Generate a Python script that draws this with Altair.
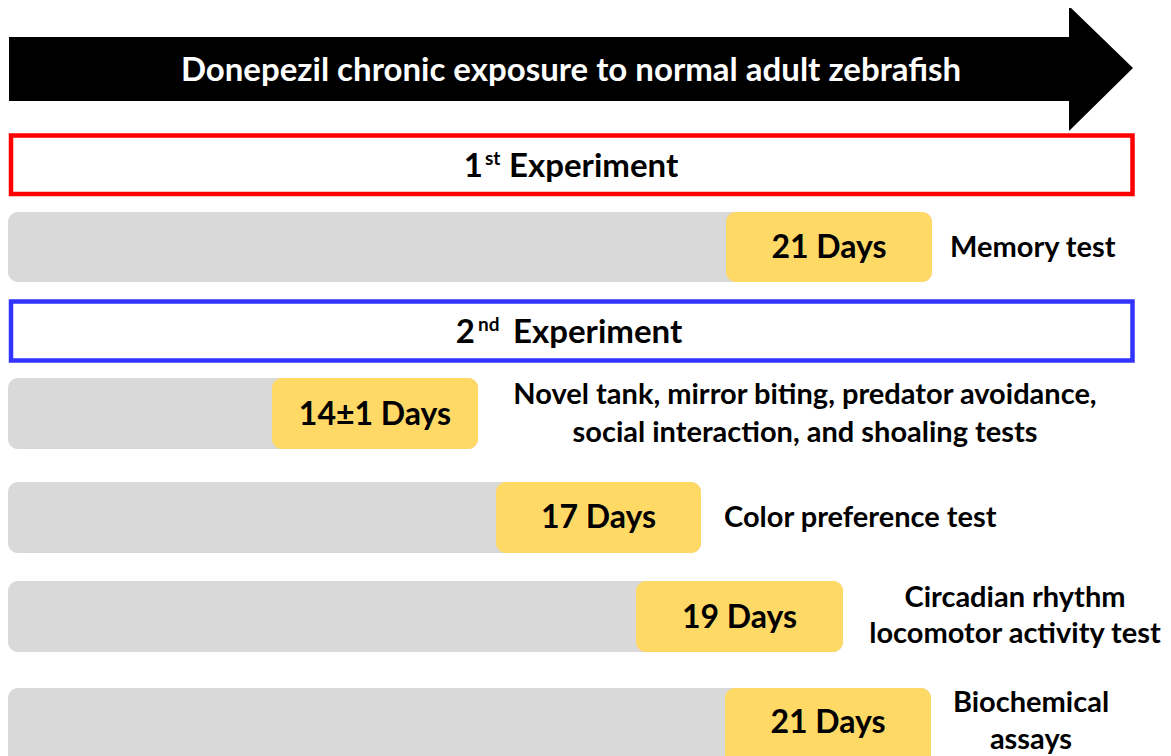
import altair as alt
import pandas as pd

# ---------------- content ----------------
title_text = "Donepezil chronic exposure to normal adult zebrafish"
exp_numbers = ["1", "2"]
exp_suffixes = ["st", "nd"]
exp_word = "Experiment"
day_labels = ["21 Days", "14±1 Days", "17 Days", "19 Days", "21 Days"]
test_lines = [
    ["Memory test"],
    ["Novel tank, mirror biting, predator avoidance,", "social interaction, and shoaling tests"],
    ["Color preference test"],
    ["Circadian rhythm", "locomotor activity test"],
    ["Biochemical", "assays"],
]

# ---------------- layout (pixel geometry of the diagram) ----------------
W, H = 1155, 748
X0, Y0 = 8, 8
bar_left = 8
bar_top = [212, 378, 482, 581, 688]
bar_bottom = [282, 449, 553, 652, 770]
yellow_left = [726, 272, 496, 636, 725]
yellow_right = [932, 478, 701, 843, 931]
day_baseline = [258, 425, 528, 628, 733]
test_pos = [
    [(950, 257, "left")],
    [(805, 404, "center"), (805, 442, "center")],
    [(724, 527, "left")],
    [(1015, 607, "center"), (1015, 643, "center")],
    [(1031, 712, "center"), (1031, 749, "center")],
]
box_x = (11, 1132.5)
box_y = [(135.5, 194), (301.5, 360.5)]
box_colors = ["#FF0000", "#3333FF"]
exp_pos = [  # number right edge, suffix left, word left, baseline, sup baseline
    (483, 485, 509, 177, 165),
    (475, 478, 513, 343, 331),
]

FONT = "Lato"
TITLE_SIZE = 33
EXP_SIZE = 33
SUP_SIZE = 19
DAY_SIZE = 32
DESC_SIZE = 29

xs = alt.Scale(domain=[X0, X0 + W], nice=False, zero=False)
ys = alt.Scale(domain=[Y0, Y0 + H], nice=False, zero=False, reverse=True)


def X(f="x"):
    return alt.X(f"{f}:Q", scale=xs, axis=None)


def Y(f="y"):
    return alt.Y(f"{f}:Q", scale=ys, axis=None)


layers = []

# arrow body + head
arrow_body = pd.DataFrame({"x": [9], "x2": [1070], "y": [37], "y2": [101]})
layers.append(
    alt.Chart(arrow_body).mark_rect(color="black").encode(
        x=X(), x2="x2:Q", y=Y(), y2="y2:Q")
)
arrow_head = pd.DataFrame({"x": [1069, 1133], "y": [6, 68], "y2": [131, 68]})
layers.append(
    alt.Chart(arrow_head).mark_area(color="black", orient="vertical").encode(
        x=X(), y=Y(), y2="y2:Q")
)
layers.append(
    alt.Chart(pd.DataFrame({"x": [571], "y": [81], "t": [title_text]}))
    .mark_text(font=FONT, fontWeight="bold", fontSize=TITLE_SIZE, color="white",
               align="center", baseline="alphabetic")
    .encode(x=X(), y=Y(), text="t:N")
)

# experiment boxes
for (y1, y2), col in zip(box_y, box_colors):
    df = pd.DataFrame({"x": [box_x[0]], "x2": [box_x[1]], "y": [y1], "y2": [y2]})
    layers.append(
        alt.Chart(df).mark_rect(fill="white", fillOpacity=0, stroke=col, strokeWidth=4.5)
        .encode(x=X(), x2="x2:Q", y=Y(), y2="y2:Q")
    )

for num, suf, (xr, xs_, xw, bl, sbl) in zip(exp_numbers, exp_suffixes, exp_pos):
    layers.append(
        alt.Chart(pd.DataFrame({"x": [xr], "y": [bl], "t": [num]}))
        .mark_text(font=FONT, fontWeight="bold", fontSize=EXP_SIZE, color="black",
                   align="right", baseline="alphabetic")
        .encode(x=X(), y=Y(), text="t:N")
    )
    layers.append(
        alt.Chart(pd.DataFrame({"x": [xs_], "y": [sbl], "t": [suf]}))
        .mark_text(font=FONT, fontWeight="bold", fontSize=SUP_SIZE, color="black",
                   align="left", baseline="alphabetic")
        .encode(x=X(), y=Y(), text="t:N")
    )
    layers.append(
        alt.Chart(pd.DataFrame({"x": [xw], "y": [bl], "t": [exp_word]}))
        .mark_text(font=FONT, fontWeight="bold", fontSize=EXP_SIZE, color="black",
                   align="left", baseline="alphabetic")
        .encode(x=X(), y=Y(), text="t:N")
    )

# gray tracks and yellow day blocks
gray = pd.DataFrame({"x": [bar_left] * 5, "x2": yellow_right, "y": bar_top, "y2": bar_bottom})
layers.append(
    alt.Chart(gray).mark_rect(color="#D9D9D9", cornerRadius=10)
    .encode(x=X(), x2="x2:Q", y=Y(), y2="y2:Q")
)
yellow = pd.DataFrame({"x": yellow_left, "x2": yellow_right, "y": bar_top, "y2": bar_bottom})
layers.append(
    alt.Chart(yellow).mark_rect(color="#FFD966", cornerRadius=10)
    .encode(x=X(), x2="x2:Q", y=Y(), y2="y2:Q")
)
days = pd.DataFrame({
    "x": [(a + b) / 2 for a, b in zip(yellow_left, yellow_right)],
    "y": day_baseline,
    "t": day_labels,
})
layers.append(
    alt.Chart(days).mark_text(font=FONT, fontWeight="bold", fontSize=DAY_SIZE, color="black",
                              align="center", baseline="alphabetic")
    .encode(x=X(), y=Y(), text="t:N")
)

# test descriptions
rows = {"left": [], "center": []}
for lines, poss in zip(test_lines, test_pos):
    for line, (x, y, al) in zip(lines, poss):
        rows[al].append({"x": x, "y": y, "t": line})
for al, recs in rows.items():
    layers.append(
        alt.Chart(pd.DataFrame(recs)).mark_text(font=FONT, fontWeight="bold", fontSize=DESC_SIZE,
                                                color="black", align=al, baseline="alphabetic")
        .encode(x=X(), y=Y(), text="t:N")
    )

chart = alt.layer(*layers).properties(
    width=W, height=H, padding=0, autosize=alt.AutoSizeParams(type="none"),
    background="white",
).configure_view(stroke=None)

chart.save("out.html", embed_options={"renderer": "svg", "actions": False})
